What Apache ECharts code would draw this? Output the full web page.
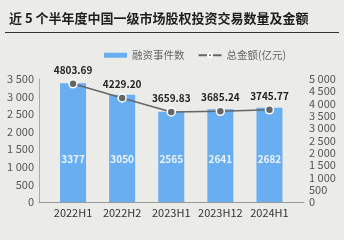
<!DOCTYPE html>
<html><head><meta charset="utf-8">
<script src="https://cdn.jsdelivr.net/npm/echarts@6/dist/echarts.min.js"></script>
<style>html,body{margin:0;padding:0;background:#ebebe8;}#c{width:344px;height:240px;}</style>
</head><body><div id="c"></div>
<script>
const categories = ['2022H1','2022H2','2023H1','2023H12','2024H1'];
const dealCounts = [3377, 3050, 2565, 2641, 2682];
const totalAmounts = [4803.69, 4229.20, 3659.83, 3685.24, 3745.77];
const leftTicks = {min: 0, max: 3500, interval: 500};
const rightTicks = {min: 0, max: 5000, interval: 500};
const titleText = '近 5 个半年度中国一级市场股权投资交易数量及金额';
const seriesNames = ['融资事件数', '总金额(亿元)'];

function fmt(v){ return v >= 1000 ? Math.floor(v/1000) + ' ' + String(v % 1000).padStart(3,'0') : String(v); }
const font = '"Noto Sans CJK SC", "Noto Sans", sans-serif';
const chart = echarts.init(document.getElementById('c'), null, {renderer:'canvas'});
chart.setOption({
  backgroundColor: '#ebebe8',
  animation: false,
  textStyle: {fontFamily: font},
  title: {text: titleText, left: 4, top: 7, textStyle: {fontSize: 13, fontWeight: 'bold', color: '#1e1e1e', fontFamily: font}},
  graphic: [{type: 'rect', shape: {x: 5, y: 32, width: 334, height: 1}, style: {fill: '#333'}}],
  legend: {
    top: 45, left: 99, itemGap: 13, itemWidth: 23, itemHeight: 5,
    textStyle: {fontSize: 10.5, color: '#666'},
    data: [{name: seriesNames[0], icon: 'rect'}, {name: seriesNames[1]}]
  },
  grid: [
    {left: 48.5, right: 50, top: 79, bottom: 38},
    {left: 39, right: 40, top: 79, bottom: 38}
  ],
  xAxis: [
    {type: 'category', gridIndex: 0, data: categories, axisLine: {show: false}, axisTick: {show: false},
     axisLabel: {fontSize: 11, color: '#333', margin: 5, interval: 0}},
    {type: 'value', gridIndex: 1, min: 0, max: 1, axisLine: {show: true, lineStyle: {color: '#999', width: 1}},
     axisTick: {show: false}, axisLabel: {show: false}, splitLine: {show: false}}
  ],
  yAxis: [
    {type: 'value', gridIndex: 0, min: leftTicks.min, max: leftTicks.max, interval: leftTicks.interval, offset: 9.5,
     axisLine: {show: true, lineStyle: {color: '#aaa'}}, axisTick: {show: false}, splitLine: {show: false},
     axisLabel: {fontSize: 11, color: '#555', margin: 5, formatter: fmt}},
    {type: 'value', gridIndex: 0, position: 'right', min: rightTicks.min, max: rightTicks.max, interval: rightTicks.interval,
     axisLine: {show: false}, axisTick: {show: false}, splitLine: {show: false},
     axisLabel: {fontSize: 11, color: '#555', margin: 15, formatter: fmt}},
    {type: 'value', gridIndex: 1, show: false}
  ],
  series: [
    {name: seriesNames[0], type: 'bar', xAxisIndex: 0, yAxisIndex: 0, data: dealCounts, barWidth: 26,
     itemStyle: {color: '#6aaef2'},
     label: {show: true, position: 'insideBottom', distance: 38, color: '#eef4ff', fontSize: 10, fontWeight: 'bold'}},
    {name: seriesNames[1], type: 'line', xAxisIndex: 0, yAxisIndex: 1, data: totalAmounts,
     symbol: 'circle', symbolSize: 8, lineStyle: {color: '#666', width: 1.5},
     itemStyle: {color: '#666', borderColor: '#fff', borderWidth: 1.5},
     label: {show: true, position: 'top', distance: 4, color: '#222', fontSize: 10, fontWeight: 'bold',
       formatter: p => p.value.toFixed(2)}}
  ]
});
</script></body></html>
